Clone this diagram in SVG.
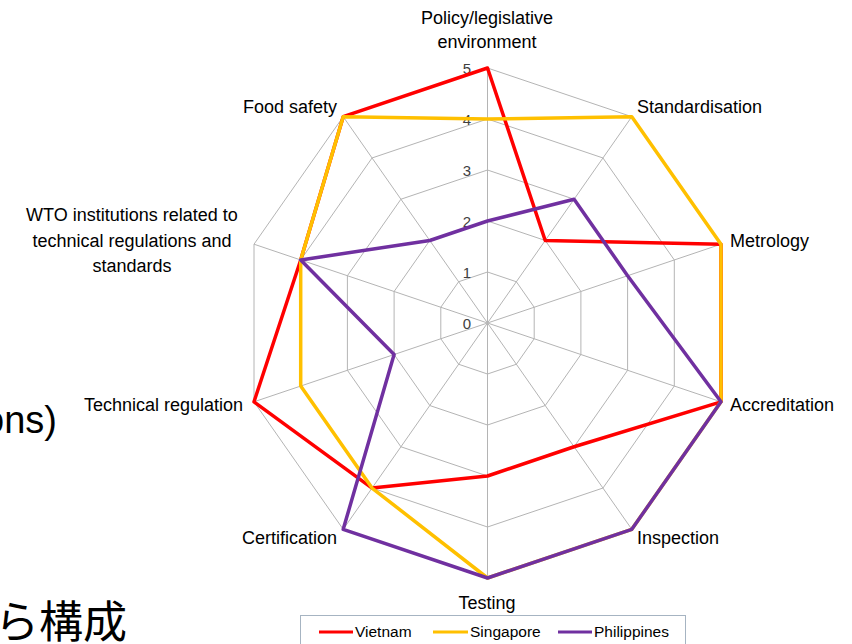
<svg xmlns="http://www.w3.org/2000/svg" width="852" height="644" viewBox="0 0 852 644">
<style>
.bg{font-family:"Liberation Sans","Noto Sans CJK JP",sans-serif;fill:#000}
.lbl{font-family:"Liberation Sans",Arial,sans-serif;font-size:18px;fill:#000}
.tick{font-family:"Liberation Sans",Arial,sans-serif;font-size:15px;fill:#404040;text-anchor:end}
.grid{fill:none;stroke:#b4b4b4;stroke-width:1}
.ser{fill:none;stroke-width:3.5;stroke-linejoin:round}
.leg{font-family:"Liberation Sans",Arial,sans-serif;font-size:15.5px;fill:#000}
</style>
<rect width="852" height="644" fill="#fff"/>
<text class="bg" x="57" y="433" font-size="38" text-anchor="end">ons)</text>
<text class="bg" x="127" y="638" font-size="44" text-anchor="end">ら構成</text>
<g id="grid">
<polygon class="grid" points="487.5,272 516.36,281.74 534.2,307.24 534.2,338.76 516.36,364.26 487.5,374 458.64,364.26 440.8,338.76 440.8,307.24 458.64,281.74"/>
<polygon class="grid" points="487.5,221 545.22,240.48 580.9,291.48 580.9,354.52 545.22,405.52 487.5,425 429.78,405.52 394.1,354.52 394.1,291.48 429.78,240.48"/>
<polygon class="grid" points="487.5,170 574.08,199.22 627.6,275.72 627.6,370.28 574.08,446.78 487.5,476 400.92,446.78 347.4,370.28 347.4,275.72 400.92,199.22"/>
<polygon class="grid" points="487.5,119 602.94,157.96 674.3,259.96 674.3,386.04 602.94,488.04 487.5,527 372.06,488.04 300.7,386.04 300.7,259.96 372.06,157.96"/>
<polygon class="grid" points="487.5,68 631.8,116.7 721,244.2 721,401.8 631.8,529.3 487.5,578 343.2,529.3 254,401.8 254,244.2 343.2,116.7"/>
<path class="grid" d="M487.5,323L487.5,68M487.5,323L631.8,116.7M487.5,323L721,244.2M487.5,323L721,401.8M487.5,323L631.8,529.3M487.5,323L487.5,578M487.5,323L343.2,529.3M487.5,323L254,401.8M487.5,323L254,244.2M487.5,323L343.2,116.7"/>
</g>
<g id="ticks">
<text class="tick" x="471" y="329">0</text>
<text class="tick" x="471" y="278">1</text>
<text class="tick" x="471" y="227">2</text>
<text class="tick" x="471" y="176">3</text>
<text class="tick" x="471" y="125">4</text>
<text class="tick" x="471" y="74">5</text>
</g>
<g id="connectors">
<polygon id="vietnam" class="ser" stroke="#ff0000" points="487.5,68 545.22,240.48 721,244.2 721,401.8 574.08,446.78 487.5,476 372.06,488.04 254,401.8 300.7,259.96 343.2,116.7"/>
<polygon id="singapore" class="ser" stroke="#ffc000" points="487.5,119 631.8,116.7 721,244.2 721,401.8 631.8,529.3 487.5,578 372.06,488.04 300.7,386.04 300.7,259.96 343.2,116.7"/>
<polygon id="philippines" class="ser" stroke="#7030a0" points="487.5,221 574.08,199.22 627.6,275.72 721,401.8 631.8,529.3 487.5,578 343.2,529.3 394.1,354.52 300.7,259.96 429.78,240.48"/>
</g>
<g id="axis-policy"><text class="lbl" x="487" y="24" text-anchor="middle">Policy/legislative</text><text class="lbl" x="487" y="48" text-anchor="middle">environment</text></g>
<g id="axis-standardisation"><text class="lbl" x="637" y="113">Standardisation</text></g>
<g id="axis-metrology"><text class="lbl" x="730" y="247">Metrology</text></g>
<g id="axis-accreditation"><text class="lbl" x="730" y="411">Accreditation</text></g>
<g id="axis-inspection"><text class="lbl" x="637" y="544">Inspection</text></g>
<g id="axis-testing"><text class="lbl" x="487" y="609" text-anchor="middle">Testing</text></g>
<g id="axis-certification"><text class="lbl" x="337" y="544" text-anchor="end">Certification</text></g>
<g id="axis-technical"><text class="lbl" x="243" y="411" text-anchor="end">Technical regulation</text></g>
<g id="axis-wto"><text class="lbl" x="132" y="221" text-anchor="middle">WTO institutions related to</text><text class="lbl" x="132" y="247" text-anchor="middle">technical regulations and</text><text class="lbl" x="132" y="272" text-anchor="middle">standards</text></g>
<g id="axis-food"><text class="lbl" x="337" y="113" text-anchor="end">Food safety</text></g>
<g id="legend">
<rect x="300.5" y="615.5" width="385" height="40" fill="#fff" stroke="#a6b4c2" stroke-width="1"/>
<line x1="319" y1="632" x2="353" y2="632" stroke="#ff0000" stroke-width="3"/>
<text class="leg" x="355" y="637">Vietnam</text>
<line x1="433" y1="632" x2="468" y2="632" stroke="#ffc000" stroke-width="3"/>
<text class="leg" x="470" y="637">Singapore</text>
<line x1="558" y1="632" x2="592" y2="632" stroke="#7030a0" stroke-width="3"/>
<text class="leg" x="594" y="637">Philippines</text>
</g>
</svg>
